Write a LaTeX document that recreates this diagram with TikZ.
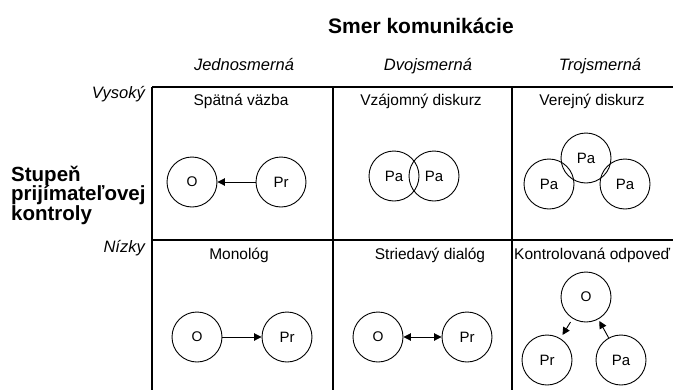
\documentclass[tikz,border=0pt]{standalone}
\usepackage{fontspec}
\setmainfont{Liberation Sans}
\usetikzlibrary{arrows.meta}
\begin{document}
\begin{tikzpicture}[x=1pt,y=-1pt,
  gridline/.style={line width=2.8pt},
  circ/.style={circle,draw,line width=0.9pt,minimum size=50pt,inner sep=0pt,font=\fontsize{15}{18}\selectfont},
  ocirc/.style={circ,font=\fontsize{14}{16}\selectfont},
  arr/.style={line width=0.9pt,-{Triangle[length=7.5pt,width=7.5pt]}},
  darr/.style={line width=0.9pt,{Triangle[length=7.5pt,width=7.5pt]}-{Triangle[length=7.5pt,width=7.5pt]}},
  ttl/.style={anchor=base,inner sep=0pt,font=\fontsize{21}{24}\selectfont\bfseries},
  hdr/.style={anchor=base,inner sep=0pt,font=\fontsize{16.5}{19}\selectfont\itshape},
  rowlbl/.style={anchor=base east,inner sep=0pt,font=\fontsize{16.5}{19}\selectfont\itshape},
  cell/.style={anchor=base,inner sep=0pt,font=\fontsize{15.5}{18}\selectfont},
  side/.style={anchor=base west,inner sep=0pt,align=left,font=\fontsize{20.5}{19.5}\selectfont\bfseries}
]
\useasboundingbox (0,0) rectangle (673,389);
% grid
\draw[gridline] (152,87) -- (676,87);
\draw[gridline] (152,240) -- (676,240);
\draw[gridline] (152,87) -- (152,392);
\draw[gridline] (333,87) -- (333,392);
\draw[gridline] (512,87) -- (512,392);
% titles
\node[ttl] (title) at (421,33) {Smer komunikácie};
\node[hdr] (h1) at (244,70) {Jednosmerná};
\node[hdr] (h2) at (428,70) {Dvojsmerná};
\node[hdr] (h3) at (600,70) {Trojsmerná};
\node[rowlbl] (r1) at (145,98) {Vysoký};
\node[rowlbl] (r2) at (145,252) {Nízky};
\node[side] (s1) at (11,181) {Stupeň};
\node[side] (s2) at (11,200.5) {prijímateľovej};
\node[side] (s3) at (11,220) {kontroly};
% cell titles
\node[cell] (c11) at (241,105) {Spätná väzba};
\node[cell] (c12) at (421,105) {Vzájomný diskurz};
\node[cell] (c13) at (592,105) {Verejný diskurz};
\node[cell] (c21) at (239,259) {Monológ};
\node[cell] (c22) at (430,259) {Striedavý dialóg};
\node[cell,anchor=base west] (c23) at (514,259) {Kontrolovaná odpoveď};
% top row
\node[ocirc] (o1) at (192,182) {O};
\node[circ] (pr1) at (281,182) {Pr};
\draw[arr] (pr1) -- (o1);
\node[circ] (pa1) at (394,176) {Pa};
\node[circ] (pa2) at (434,176) {Pa};
\node[circ] (pa3) at (586,158) {Pa};
\node[circ] (pa4) at (549,184) {Pa};
\node[circ] (pa5) at (625,184) {Pa};
% bottom row
\node[ocirc] (o2) at (197,337) {O};
\node[circ] (pr2) at (287,337) {Pr};
\draw[arr] (o2) -- (pr2);
\node[ocirc] (o3) at (378,337) {O};
\node[circ] (pr3) at (467,337) {Pr};
\draw[darr] (o3) -- (pr3);
\node[ocirc] (o4) at (586,297) {O};
\node[circ] (pr4) at (547,360) {Pr};
\node[circ] (pa6) at (621,360) {Pa};
\draw[arr,shorten <=4pt,shorten >=4pt] (o4) -- (pr4);
\draw[arr,shorten >=2pt] (pa6) -- (o4);
\end{tikzpicture}
\end{document}
